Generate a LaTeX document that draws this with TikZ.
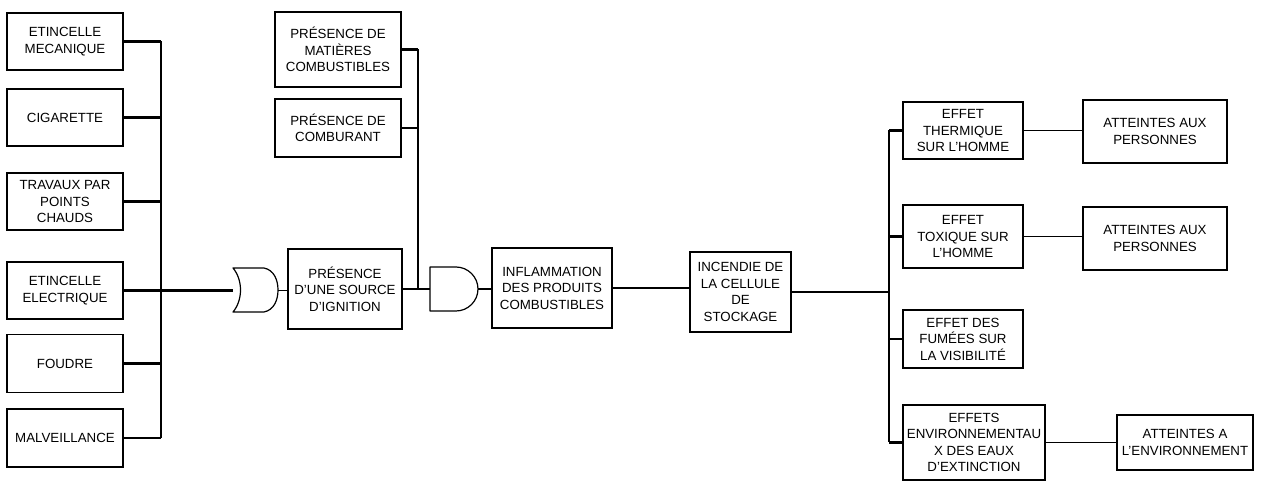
\documentclass[tikz,border=0pt]{standalone}
\usepackage{fontspec}
\setmainfont{Liberation Sans}
\begin{document}
\begin{tikzpicture}[x=1pt,y=-1pt,
  box/.style={draw, line width=1.3pt, inner sep=0pt, align=center, font=\fontsize{13.3}{16.5}\selectfont},
  conn/.style={line width=2.2pt},
  thinconn/.style={line width=1.5pt},
  gate/.style={draw, line width=1.2pt, line join=round}]
\useasboundingbox (0,0) rectangle (1262,486);
\fill[white] (0,0) rectangle (1262,486);

% left column
\node[box,minimum width=116pt,minimum height=57pt] (e1) at (65,41.5) {ETINCELLE\\MECANIQUE};
\node[box,minimum width=116pt,minimum height=57pt] (e2) at (65,117.5) {CIGARETTE};
\node[box,minimum width=116pt,minimum height=57pt] (e3) at (65,201.5) {TRAVAUX PAR\\POINTS\\CHAUDS};
\node[box,minimum width=116pt,minimum height=57pt] (e4) at (65,290.5) {ETINCELLE\\ELECTRIQUE};
\node[box,minimum width=116pt,minimum height=58pt] (e5) at (65,363.5) {FOUDRE};
\node[box,minimum width=116pt,minimum height=58pt] (e6) at (65,438) {MALVEILLANCE};
\coordinate (lbus) at (161,0);
\coordinate (orin) at (233,290.5);
\coordinate (orout) at (278,290.5);

\foreach \n in {e1,e2,e3,e4,e5,e6} \draw[conn] (\n.east) -- (\n.east -| lbus);
\draw[conn] (e1.east -| lbus) -- (e6.east -| lbus);
\draw[conn] (e4.east -| lbus) -- (orin);

% OR gate
\draw[gate] (233,268) -- (264,268) .. controls (274,270) and (278,280) .. (278,290) .. controls (278,300) and (274,310) .. (264,312) -- (233,312) .. controls (243,300) and (243,280) .. (233,268) -- cycle;

% middle
\node[box,minimum width=114pt,minimum height=80pt] (ign) at (345,289) {PRÉSENCE\\D’UNE SOURCE\\D’IGNITION};
\node[box,minimum width=126pt,minimum height=75pt] (mat) at (338,49.5) {PRÉSENCE DE\\MATIÈRES\\COMBUSTIBLES};
\node[box,minimum width=126pt,minimum height=58pt] (comb) at (338,128) {PRÉSENCE DE\\COMBURANT};
\draw[thinconn] (orout) -- (orout -| ign.west);

\coordinate (mbus) at (418,0);
\coordinate (andin) at (430,289);
\coordinate (andout) at (478,289);
\draw[conn] (mat.east) -- (mat.east -| mbus);
\draw[conn] (comb.east) -- (comb.east -| mbus);
\draw[thinconn] (mat.east -| mbus) -- (ign.east -| mbus);
\draw[conn] (ign.east) -- (andin);

% AND gate
\draw[gate] (430,267) -- (456,267) .. controls (468,267) and (478,277) .. (478,289) .. controls (478,301) and (468,311) .. (456,311) -- (430,311) -- cycle;

\node[box,minimum width=120pt,minimum height=80pt] (infl) at (552,288) {INFLAMMATION\\DES PRODUITS\\COMBUSTIBLES};
\draw[thinconn] (andout) -- (andout -| infl.west);

\node[box,minimum width=101pt,minimum height=80pt] (inc) at (740.5,292) {INCENDIE DE\\LA CELLULE\\DE\\STOCKAGE};
\draw[conn] (infl.east) -- (infl.east -| inc.west);

% right
\coordinate (rbus) at (889,0);
\node[box,minimum width=120pt,minimum height=57pt] (th) at (963,130.5) {EFFET\\THERMIQUE\\SUR L’HOMME};
\node[box,minimum width=144pt,minimum height=63pt] (p1) at (1155,131.5) {ATTEINTES AUX\\PERSONNES};
\node[box,minimum width=120pt,minimum height=63pt] (tox) at (963,236.5) {EFFET\\TOXIQUE SUR\\L’HOMME};
\node[box,minimum width=144pt,minimum height=63pt] (p2) at (1155,238.5) {ATTEINTES AUX\\PERSONNES};
\node[box,minimum width=120pt,minimum height=58pt] (fum) at (963,339) {EFFET DES\\FUMÉES SUR\\LA VISIBILITÉ};
\node[box,minimum width=142pt,minimum height=75pt] (env) at (974,442.5) {EFFETS\\ENVIRONNEMENTAU\\X DES EAUX\\D’EXTINCTION};
\node[box,minimum width=136pt,minimum height=55pt] (penv) at (1185,442.5) {ATTEINTES A\\L’ENVIRONNEMENT};

\draw[thinconn] (inc.east) -- (inc.east -| rbus);
\draw[conn] (th.west -| rbus) -- (env.west -| rbus);
\foreach \n in {th,tox,fum,env} \draw[conn] (\n.west -| rbus) -- (\n.west);
\draw[thinconn] (th.east) -- (th.east -| p1.west);
\draw[thinconn] (tox.east) -- (tox.east -| p2.west);
\draw[thinconn] (env.east) -- (env.east -| penv.west);
\end{tikzpicture}
\end{document}
